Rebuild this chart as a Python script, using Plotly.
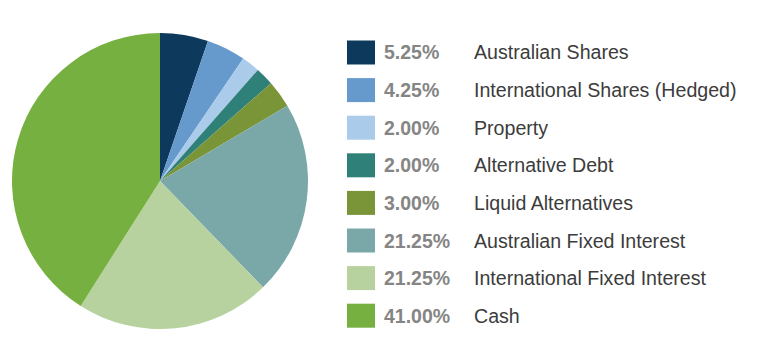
import plotly.graph_objects as go

labels = ["Australian Shares", "International Shares (Hedged)", "Property", "Alternative Debt",
          "Liquid Alternatives", "Australian Fixed Interest", "International Fixed Interest", "Cash"]
values = [5.25, 4.25, 2.00, 2.00, 3.00, 21.25, 21.25, 41.00]
colors = ["#0d3a5c", "#6699cc", "#aacbea", "#2e8078", "#7a9438", "#7aa8a9", "#b7d29f", "#76b041"]

OFF = 8  # page body margin
W, H = 784 - OFF, 358 - OFF

def px(x):
    return (x - OFF) / W

def py(y):
    return 1 - (y - OFF) / H

fig = go.Figure(go.Pie(
    labels=labels, values=values, sort=False, direction="clockwise", rotation=0,
    marker=dict(colors=colors, line=dict(width=0)), textinfo="none", hoverinfo="label+value",
    domain=dict(x=[px(12), px(308)], y=[py(329), py(33)]),
    showlegend=False,
))

shapes = []
annotations = []
row0 = 52.5
step = 37.6
for i, (lab, v, c) in enumerate(zip(labels, values, colors)):
    yc = row0 + i * step
    shapes.append(dict(type="rect", xref="paper", yref="paper",
                       x0=px(347), x1=px(375), y0=py(yc + 12), y1=py(yc - 12),
                       fillcolor=c, line=dict(width=0)))
    annotations.append(dict(xref="paper", yref="paper", x=px(382), y=py(yc),
                            xanchor="left", yanchor="middle", showarrow=False,
                            text=f"<b>{v:.2f}%</b>",
                            font=dict(family="Liberation Sans, Arial", size=19.5, color="#858585")))
    annotations.append(dict(xref="paper", yref="paper", x=px(472), y=py(yc),
                            xanchor="left", yanchor="middle", showarrow=False,
                            text=lab,
                            font=dict(family="Liberation Sans, Arial", size=19.6, color="#3c3c3c")))

fig.update_layout(
    width=W, height=H, margin=dict(l=0, r=0, t=0, b=0),
    paper_bgcolor="white", plot_bgcolor="white",
    shapes=shapes, annotations=annotations,
)

fig.write_html("out.html")
